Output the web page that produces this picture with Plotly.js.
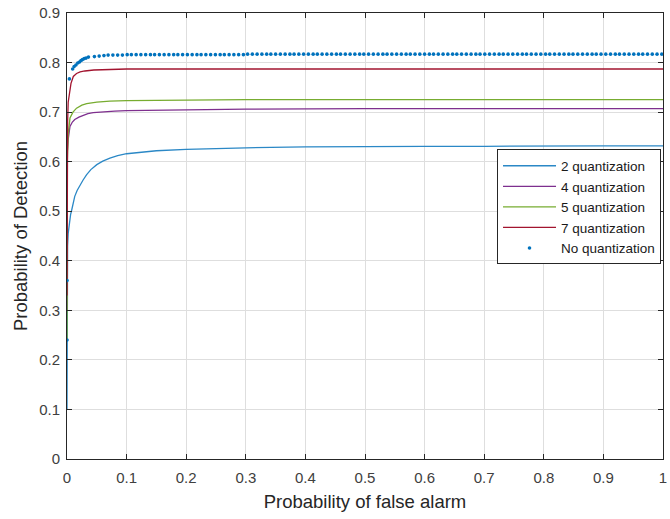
<!DOCTYPE html>
<html>
<head>
<meta charset="utf-8">
<script src="https://cdn.plot.ly/plotly-3.0.1.min.js"></script>
<style>
  html, body { margin: 0; padding: 0; background: #ffffff; }
  #chart { width: 670px; height: 519px; }
</style>
</head>
<body>
<div id="chart"></div>
<script>
// ROC curves: probability of detection vs probability of false alarm

const seriesNames = ['2 quantization', '4 quantization', '5 quantization', '7 quantization', 'No quantization'];

// 2-level quantization
const pfa2 = [0, 0, 0.0005, 0.001, 0.002, 0.004, 0.006, 0.008, 0.01, 0.013, 0.017, 0.022, 0.027, 0.033, 0.04, 0.05, 0.06, 0.072, 0.085, 0.1, 0.12, 0.15, 0.2, 0.25, 0.3, 0.4, 0.5, 0.6, 0.7, 0.8, 0.9, 1.0];
const pd2  = [0.10, 0.25, 0.40, 0.43, 0.455, 0.48, 0.493, 0.503, 0.513, 0.53, 0.542, 0.553, 0.563, 0.574, 0.584, 0.594, 0.601, 0.607, 0.612, 0.616, 0.619, 0.622, 0.625, 0.627, 0.628, 0.630, 0.631, 0.631, 0.631, 0.632, 0.632, 0.632];

// 4-level quantization
const pfa4 = [0, 0.0005, 0.002, 0.005, 0.009, 0.013, 0.02, 0.027, 0.035, 0.044, 0.06, 0.08, 0.1, 0.15, 0.2, 0.3, 0.5, 0.7, 1.0];
const pd4  = [0.30, 0.62, 0.645, 0.671, 0.680, 0.685, 0.690, 0.694, 0.697, 0.699, 0.701, 0.702, 0.703, 0.704, 0.705, 0.706, 0.707, 0.707, 0.707];

// 5-level quantization
const pfa5 = [0, 0.0005, 0.002, 0.005, 0.01, 0.016, 0.025, 0.033, 0.05, 0.072, 0.1, 0.2, 0.3, 0.5, 0.7, 1.0];
const pd5  = [0.24, 0.60, 0.655, 0.688, 0.700, 0.708, 0.714, 0.717, 0.720, 0.722, 0.723, 0.724, 0.725, 0.725, 0.725, 0.725];

// 7-level quantization
const pfa7 = [0, 0.0005, 0.001, 0.002, 0.004, 0.0067, 0.0106, 0.016, 0.022, 0.03, 0.045, 0.07, 0.1, 0.2, 0.3, 0.5, 0.7, 1.0];
const pd7  = [0.33, 0.60, 0.68, 0.72, 0.742, 0.758, 0.772, 0.778, 0.781, 0.783, 0.785, 0.786, 0.787, 0.787, 0.787, 0.787, 0.787, 0.787];

// Unquantized detector (plotted as dots)
const pfaNQ = [0, 0, 0.004, 0.0095, 0.012, 0.015, 0.018, 0.021, 0.0235, 0.026, 0.029, 0.032, 0.036,
  0.046, 0.054, 0.062, 0.069, 0.077, 0.085, 0.093, 0.101, 0.108, 0.116, 0.124, 0.132, 0.140, 0.147, 0.155,
  0.163, 0.171, 0.179, 0.186, 0.194, 0.202, 0.210, 0.218, 0.225, 0.233, 0.241, 0.249, 0.257, 0.264, 0.272,
  0.280, 0.288, 0.296, 0.303, 0.311, 0.319, 0.327, 0.335, 0.342, 0.350, 0.358, 0.366, 0.374, 0.381, 0.389,
  0.397, 0.405, 0.413, 0.420, 0.428, 0.436, 0.444, 0.452, 0.459, 0.467, 0.475, 0.483, 0.491, 0.498, 0.506,
  0.514, 0.522, 0.530, 0.537, 0.545, 0.553, 0.561, 0.569, 0.576, 0.584, 0.592, 0.600, 0.608, 0.615, 0.623,
  0.631, 0.639, 0.647, 0.654, 0.662, 0.670, 0.678, 0.686, 0.693, 0.701, 0.709, 0.717, 0.725, 0.732, 0.740,
  0.748, 0.756, 0.764, 0.771, 0.779, 0.787, 0.795, 0.803, 0.810, 0.818, 0.826, 0.834, 0.842, 0.849, 0.857,
  0.865, 0.873, 0.881, 0.888, 0.896, 0.904, 0.912, 0.920, 0.927, 0.935, 0.943, 0.951, 0.959, 0.966, 0.974,
  0.982, 0.990, 0.998];
const pdNQ = [0.24, 0.36, 0.767, 0.787, 0.792, 0.795, 0.799, 0.801, 0.804, 0.806, 0.808, 0.809, 0.811,
  0.812, 0.813, 0.814, 0.815, 0.815, 0.815, 0.815, 0.816, 0.816, 0.816, 0.816, 0.816, 0.816, 0.816, 0.816,
  0.816, 0.816, 0.816, 0.816, 0.816, 0.816, 0.816, 0.816, 0.816, 0.816, 0.816, 0.816, 0.816, 0.816, 0.816,
  0.816, 0.816, 0.816, 0.817, 0.817, 0.817, 0.817, 0.817, 0.817, 0.817, 0.817, 0.817, 0.817, 0.817, 0.817,
  0.817, 0.817, 0.817, 0.817, 0.817, 0.817, 0.817, 0.817, 0.817, 0.817, 0.817, 0.817, 0.817, 0.817, 0.817,
  0.817, 0.817, 0.817, 0.817, 0.817, 0.817, 0.817, 0.817, 0.817, 0.817, 0.817, 0.817, 0.817, 0.817, 0.817,
  0.817, 0.817, 0.817, 0.817, 0.817, 0.817, 0.817, 0.817, 0.817, 0.817, 0.817, 0.817, 0.817, 0.817, 0.817,
  0.817, 0.817, 0.817, 0.817, 0.817, 0.817, 0.817, 0.817, 0.817, 0.817, 0.817, 0.817, 0.817, 0.817, 0.817,
  0.817, 0.817, 0.817, 0.817, 0.817, 0.817, 0.817, 0.817, 0.817, 0.817, 0.817, 0.817, 0.817, 0.817, 0.817,
  0.817, 0.817, 0.817];

const xTicks = [0, 0.1, 0.2, 0.3, 0.4, 0.5, 0.6, 0.7, 0.8, 0.9, 1];
const xTickText = ['0', '0.1', '0.2', '0.3', '0.4', '0.5', '0.6', '0.7', '0.8', '0.9', '1'];
const yTicks = [0, 0.1, 0.2, 0.3, 0.4, 0.5, 0.6, 0.7, 0.8, 0.9];
const yTickText = ['0', '0.1', '0.2', '0.3', '0.4', '0.5', '0.6', '0.7', '0.8', '0.9'];

const colors = ['#2b88c6', '#7E2F8E', '#77AC30', '#A2142F', '#0072BD'];
const fontFamily = 'Liberation Sans, Arial, sans-serif';

const lineSets = [[pfa2, pd2], [pfa4, pd4], [pfa5, pd5], [pfa7, pd7]];
const traces = lineSets.map((s, i) => ({
  x: s[0], y: s[1], type: 'scatter', mode: 'lines', name: seriesNames[i],
  line: { color: colors[i], width: 1.3 }
}));
traces.push({
  x: pfaNQ, y: pdNQ, type: 'scatter', mode: 'markers', name: seriesNames[4],
  marker: { color: colors[4], size: 3.6 }
});

const axisCommon = {
  showline: true, linecolor: '#262626', linewidth: 1, mirror: 'ticks',
  ticks: 'inside', ticklen: 5, tickcolor: '#262626', tickwidth: 1,
  showgrid: true, gridcolor: '#dedede', gridwidth: 1, zeroline: false,
  tickfont: { family: fontFamily, size: 15, color: '#404040' },
  tickmode: 'array'
};

const layout = {
  width: 670, height: 519,
  margin: { l: 67, r: 7, t: 13, b: 60 },
  paper_bgcolor: '#ffffff', plot_bgcolor: '#ffffff',
  showlegend: true,
  xaxis: Object.assign({}, axisCommon, {
    range: [0, 1], tickvals: xTicks, ticktext: xTickText, ticklabelstandoff: 5,
    title: { text: 'Probability of false alarm', standoff: 10,
      font: { family: fontFamily, size: 18.5, color: '#262626' } }
  }),
  yaxis: Object.assign({}, axisCommon, {
    range: [0, 0.9], tickvals: yTicks, ticktext: yTickText, ticklabelstandoff: 3,
    title: { text: 'Probability of Detection', standoff: 6,
      font: { family: fontFamily, size: 18.5, color: '#262626' } }
  }),
  legend: {
    x: 0.7215, y: 0.694, xanchor: 'left', yanchor: 'top',
    bgcolor: '#ffffff', bordercolor: '#262626', borderwidth: 1,
    itemwidth: 53,
    font: { family: fontFamily, size: 13.5, color: '#1a1a1a' },
    tracegroupgap: 0
  }
};

Plotly.newPlot('chart', traces, layout, { staticPlot: true, displayModeBar: false });
</script>
</body>
</html>
